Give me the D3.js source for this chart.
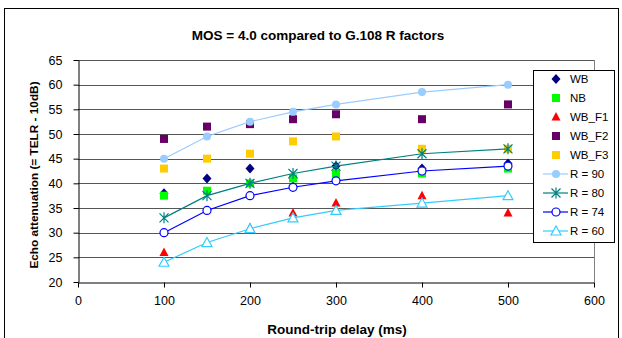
<!DOCTYPE html>
<html>
<head>
<meta charset="utf-8">
<script src="https://cdn.jsdelivr.net/npm/d3@7"></script>
<style>
  body { margin: 0; background: #fff; }
  text { font-family: "Liberation Sans", Arial, sans-serif; }
</style>
</head>
<body>
<div id="chart"></div>
<script>
// delays (ms)
const delays = [100, 150, 200, 250, 300, 400, 500];

// measured points (null = not measured)
const wb   = [38, 41, 43, 41, 43.5, 43, 44];
const nb   = [37.5, 38.5, 40, 41, 42, 42, 43];
const wbF1 = [26, null, 31, 34, 36, 37.5, 34];
const wbF2 = [49, 51.5, 52, 53, 54, 53, 56];
const wbF3 = [43, 45, 46, 48.5, 49.5, 47, 47];

// G.108 R factor curves
const r90 = [45, 49.5, 52.5, 54.5, 56, 58.5, 60];
const r80 = [33, 37.5, 40, 42, 43.5, 46, 47];
const r74 = [30, 34.5, 37.5, 39.2, 40.5, 42.5, 43.5];
const r60 = [24, 28, 30.8, 33, 34.5, 36, 37.5];

const xTicks = [0, 100, 200, 300, 400, 500, 600];
const yTicks = [20, 25, 30, 35, 40, 45, 50, 55, 60, 65];

const width = 622, height = 338;
const margin = { left: 78, right: 28, top: 60, bottom: 56 };

const svg = d3.select('#chart').append('svg')
  .attr('width', width)
  .attr('height', height);

// outer chart frame
svg.append('rect')
  .attr('x', 4.5).attr('y', 8.5)
  .attr('width', 614).attr('height', 334)
  .attr('fill', 'none').attr('stroke', '#000');

const x = d3.scaleLinear().domain([0, 600]).range([margin.left, width - margin.right]);
const y = d3.scaleLinear().domain([20, 65]).range([height - margin.bottom, margin.top]);

// gridlines
svg.append('g')
  .selectAll('line')
  .data(yTicks.slice(1))
  .enter().append('line')
  .attr('x1', x(0)).attr('x2', x(600))
  .attr('y1', d => Math.round(y(d)) + 0.5)
  .attr('y2', d => Math.round(y(d)) + 0.5)
  .attr('stroke', '#555');

// plot area right edge
svg.append('line')
  .attr('x1', Math.round(x(600)) + 0.5).attr('x2', Math.round(x(600)) + 0.5)
  .attr('y1', y(65)).attr('y2', y(20))
  .attr('stroke', '#808080');

const xAxis = d3.axisBottom(x).tickValues(xTicks).tickSize(5).tickSizeOuter(0);
const yAxis = d3.axisLeft(y).tickValues(yTicks).tickSize(5).tickSizeOuter(0);

const gx = svg.append('g')
  .attr('transform', 'translate(0,' + (Math.round(y(20)) + 0.5) + ')')
  .call(xAxis);
const gy = svg.append('g')
  .attr('transform', 'translate(' + (Math.round(x(0)) + 0.5) + ',0)')
  .call(yAxis);

[gx, gy].forEach(g => {
  g.select('.domain').attr('stroke', '#000');
  g.selectAll('.tick line').attr('stroke', '#000');
  g.selectAll('.tick text')
    .attr('fill', '#000')
    .style('font-size', '12.5px')
    .style('font-family', '"Liberation Sans", Arial, sans-serif');
});
gx.selectAll('.tick text').attr('dy', '1.15em');
gy.selectAll('.tick text').attr('x', -16);

// titles
svg.append('text')
  .attr('x', 318).attr('y', 40)
  .attr('text-anchor', 'middle')
  .style('font-size', '13.5px').style('font-weight', 'bold')
  .text('MOS = 4.0 compared to G.108 R factors');

svg.append('text')
  .attr('x', 337).attr('y', 334)
  .attr('text-anchor', 'middle')
  .style('font-size', '13.5px').style('font-weight', 'bold')
  .text('Round-trip delay (ms)');

svg.append('text')
  .attr('transform', 'translate(38,' + 175 + ') rotate(-90)')
  .attr('text-anchor', 'middle')
  .style('font-size', '11.8px').style('font-weight', 'bold')
  .text('Echo attenuation (= TELR - 10dB)');

// marker shapes
function marker(g, type, color, cx, cy) {
  if (type === 'diamond') {
    g.append('path').attr('d', 'M' + cx + ',' + (cy - 5) + 'L' + (cx + 4.5) + ',' + cy + 'L' + cx + ',' + (cy + 5) + 'L' + (cx - 4.5) + ',' + cy + 'Z')
      .attr('fill', color);
  } else if (type === 'square') {
    g.append('rect').attr('x', cx - 4).attr('y', cy - 4)
      .attr('width', 8).attr('height', 8).attr('fill', color);
  } else if (type === 'triangle') {
    g.append('path').attr('d', 'M' + cx + ',' + (cy - 5) + 'L' + (cx + 4.5) + ',' + (cy + 3.5) + 'L' + (cx - 4.5) + ',' + (cy + 3.5) + 'Z')
      .attr('fill', color);
  } else if (type === 'dot') {
    g.append('circle').attr('cx', cx).attr('cy', cy).attr('r', 4).attr('fill', color);
  } else if (type === 'circle') {
    g.append('circle').attr('cx', cx).attr('cy', cy).attr('r', 4)
      .attr('fill', '#fff').attr('stroke', color).attr('stroke-width', 1.2);
  } else if (type === 'opentri') {
    g.append('path').attr('d', 'M' + cx + ',' + (cy - 5) + 'L' + (cx + 5) + ',' + (cy + 4) + 'L' + (cx - 5) + ',' + (cy + 4) + 'Z')
      .attr('fill', '#fff').attr('stroke', color).attr('stroke-width', 1.2);
  } else if (type === 'star') {
    const s = 4.5;
    g.append('path')
      .attr('d', 'M' + (cx - s) + ',' + (cy - s) + 'L' + (cx + s) + ',' + (cy + s) +
                 'M' + (cx - s) + ',' + (cy + s) + 'L' + (cx + s) + ',' + (cy - s) +
                 'M' + cx + ',' + (cy - s - 1) + 'L' + cx + ',' + (cy + s + 1))
      .attr('stroke', color).attr('stroke-width', 1.2).attr('fill', 'none');
  }
}

const series = [
  { name: 'WB', values: wb, color: '#000080', type: 'diamond', line: false },
  { name: 'NB', values: nb, color: '#00FF00', type: 'square', line: false },
  { name: 'WB_F1', values: wbF1, color: '#FF0000', type: 'triangle', line: false },
  { name: 'WB_F2', values: wbF2, color: '#660066', type: 'square', line: false },
  { name: 'WB_F3', values: wbF3, color: '#FFCC00', type: 'square', line: false },
  { name: 'R = 90', values: r90, color: '#99CCFF', type: 'dot', line: true },
  { name: 'R = 80', values: r80, color: '#008080', type: 'star', line: true },
  { name: 'R = 74', values: r74, color: '#0000FF', type: 'circle', line: true },
  { name: 'R = 60', values: r60, color: '#33CCFF', type: 'opentri', line: true }
];

const line = d3.line()
  .defined(d => d[1] !== null)
  .x(d => x(d[0])).y(d => y(d[1]));

const plot = svg.append('g');
series.forEach(s => {
  const g = plot.append('g');
  const pts = delays.map((d, i) => [d, s.values[i]]);
  if (s.line) {
    g.append('path').datum(pts).attr('d', line)
      .attr('fill', 'none').attr('stroke', s.color).attr('stroke-width', 1.2);
  }
  pts.filter(p => p[1] !== null).forEach(p => marker(g, s.type, s.color, x(p[0]), y(p[1])));
});

// legend
const lg = svg.append('g');
lg.append('rect')
  .attr('x', 533.5).attr('y', 70.5)
  .attr('width', 81).attr('height', 172)
  .attr('fill', '#fff').attr('stroke', '#000');
series.forEach((s, i) => {
  const cy = 79 + i * 19;
  const g = lg.append('g');
  if (s.line) {
    g.append('line').attr('x1', 543).attr('x2', 568).attr('y1', cy).attr('y2', cy)
      .attr('stroke', s.color).attr('stroke-width', 1.2);
  }
  marker(g, s.type, s.color, 556, cy);
  g.append('text').attr('x', 570).attr('y', cy + 4)
    .style('font-size', '11.5px').text(s.name);
});
</script>
</body>
</html>
